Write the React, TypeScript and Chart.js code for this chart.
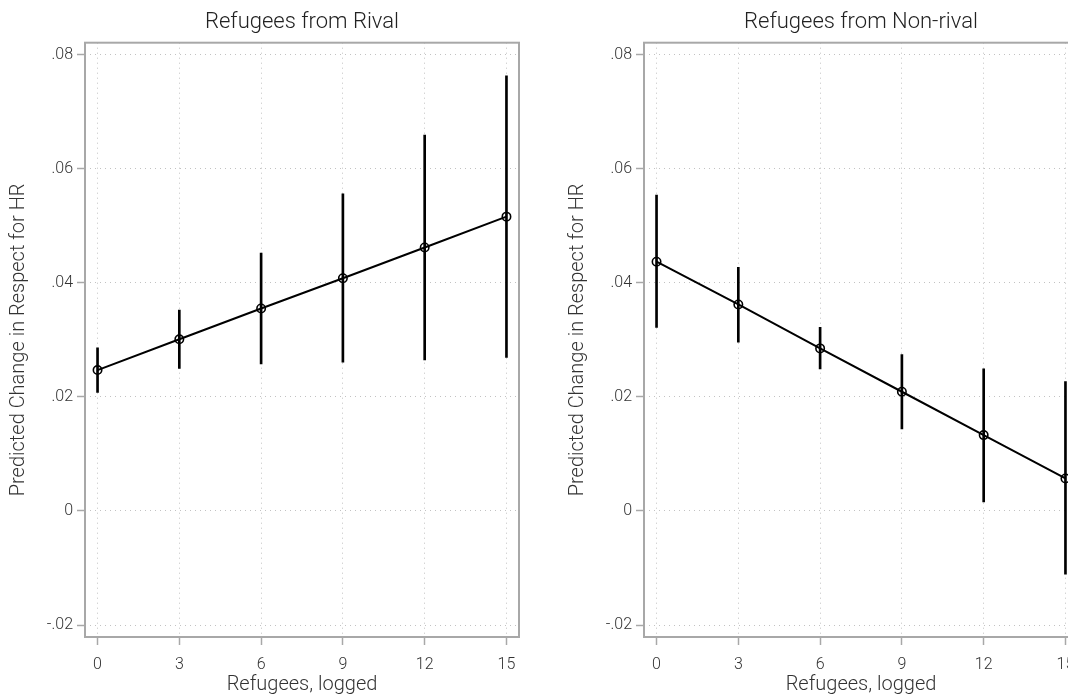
import React, { useEffect, useRef } from 'react';
import { Chart, registerables } from 'chart.js';

Chart.register(...registerables);

// Refugee stock (logged) at which predictions are evaluated
const xValues = [0, 3, 6, 9, 12, 15];
const xTicks = [0, 3, 6, 9, 12, 15];
const yTicks = [-0.02, 0, 0.02, 0.04, 0.06, 0.08];
const yTickLabels = ['-.02', '0', '.02', '.04', '.06', '.08'];

// Refugees from rival states: predicted change and 95% interval
const rivalEstimate = [0.0247, 0.0301, 0.0355, 0.0408, 0.0462, 0.0516];
const rivalLower = [0.0208, 0.0250, 0.0258, 0.0261, 0.0265, 0.0269];
const rivalUpper = [0.0286, 0.0352, 0.0452, 0.0556, 0.0659, 0.0763];

// Refugees from non-rival states
const nonRivalEstimate = [0.0437, 0.0362, 0.0285, 0.0209, 0.0133, 0.0057];
const nonRivalLower = [0.0322, 0.0296, 0.0249, 0.0144, 0.0016, -0.0111];
const nonRivalUpper = [0.0554, 0.0427, 0.0322, 0.0274, 0.0249, 0.0227];

const FONT = 'Roboto, "Noto Sans", sans-serif';
const TEXT = '#333333';
const AXIS_GRAY = '#a8a8a8';
const GRID_GRAY = '#c2c2c2';

// Gray outline around the whole plot region
const framePlugin = {
  id: 'plotFrame',
  beforeDatasetsDraw(chart: any) {
    const { ctx, chartArea } = chart;
    ctx.save();
    ctx.strokeStyle = AXIS_GRAY;
    ctx.lineWidth = 2;
    ctx.strokeRect(chartArea.left, chartArea.top, chartArea.right - chartArea.left, chartArea.bottom - chartArea.top);
    ctx.restore();
  },
};

type PanelProps = {
  title: string;
  estimate: number[];
  lower: number[];
  upper: number[];
  left: number;
};

function Panel({ title, estimate, lower, upper, left }: PanelProps) {
  const ref = useRef<HTMLCanvasElement | null>(null);

  useEffect(() => {
    if (!ref.current) return;
    const tickFont = { family: FONT, size: 16, weight: '300' as any };
    const titleFont = { family: FONT, size: 20, weight: '300' as any, lineHeight: 1.2 };
    const chart = new Chart(ref.current, {
      type: 'line',
      data: {
        datasets: [
          {
            type: 'line',
            data: xValues.map((x, i) => ({ x, y: estimate[i] })),
            borderColor: '#000',
            borderWidth: 2,
            pointRadius: 4.2,
            pointBorderWidth: 1.6,
            pointBackgroundColor: 'rgba(0,0,0,0)',
            pointBorderColor: '#000',
            tension: 0,
            order: 1,
          } as any,
          {
            type: 'bar',
            data: xValues.map((x, i) => ({ x, y: [lower[i], upper[i]] })),
            backgroundColor: '#000',
            borderWidth: 0,
            barThickness: 2,
            order: 2,
          } as any,
        ],
      },
      options: {
        animation: false,
        responsive: false,
        events: [],
        layout: { padding: { left: 0, right: 21, top: 0, bottom: 0 } },
        plugins: {
          legend: { display: false },
          tooltip: { enabled: false },
          title: {
            display: true,
            fullSize: false,
            text: title,
            color: '#222',
            font: { family: FONT, size: 22, weight: '300' as any, lineHeight: 1.2 },
            padding: { top: 9, bottom: 7.3 },
          },
        },
        scales: {
          x: {
            type: 'linear',
            min: -0.46,
            max: 15.46,
            offset: false,
            afterBuildTicks: (s: any) => {
              s.ticks = xTicks.map((v) => ({ value: v }));
            },
            afterFit: (s: any) => {
              s.height = 57;
            },
            grid: {
              offset: false,
              color: GRID_GRAY,
              lineWidth: 1,
              tickLength: 8,
              tickColor: AXIS_GRAY,
              tickWidth: 1.5,
              tickBorderDash: [],
            },
            border: { display: false, dash: [1, 4] },
            ticks: {
              padding: 10,
              color: TEXT,
              font: tickFont,
              maxRotation: 0,
              autoSkip: false,
              callback: (v: any) => String(v),
            },
            title: {
              display: true,
              text: 'Refugees, logged',
              color: TEXT,
              font: titleFont,
              padding: { top: 0, bottom: -3 },
            },
          },
          y: {
            type: 'linear',
            min: -0.0221,
            max: 0.0821,
            afterBuildTicks: (s: any) => {
              s.ticks = yTicks.map((v) => ({ value: v }));
            },
            afterFit: (s: any) => {
              s.width = 85;
            },
            grid: {
              color: GRID_GRAY,
              lineWidth: 1,
              tickLength: 8,
              tickColor: AXIS_GRAY,
              tickWidth: 1.5,
              tickBorderDash: [],
            },
            border: { display: false, dash: [1, 4] },
            ticks: {
              padding: 4,
              color: TEXT,
              font: tickFont,
              autoSkip: false,
              callback: (_v: any, i: number) => yTickLabels[i],
            },
            title: {
              display: true,
              text: 'Predicted Change in Respect for HR',
              color: TEXT,
              font: titleFont,
              padding: { top: 6.5, bottom: 0 },
            },
          },
        },
      },
      plugins: [framePlugin],
    } as any);
    return () => chart.destroy();
  }, [title, estimate, lower, upper]);

  return (
    <canvas
      ref={ref}
      width={540}
      height={694}
      style={{ position: 'absolute', left, top: 0, width: 540, height: 694 }}
    />
  );
}

export default function App() {
  return (
    <div
      style={{
        position: 'fixed',
        left: 0,
        top: 0,
        width: 1068,
        height: 694,
        overflow: 'hidden',
        background: '#fff',
      }}
    >
      <Panel title="Refugees from Rival" estimate={rivalEstimate} lower={rivalLower} upper={rivalUpper} left={0} />
      <Panel
        title="Refugees from Non-rival"
        estimate={nonRivalEstimate}
        lower={nonRivalLower}
        upper={nonRivalUpper}
        left={559}
      />
    </div>
  );
}
